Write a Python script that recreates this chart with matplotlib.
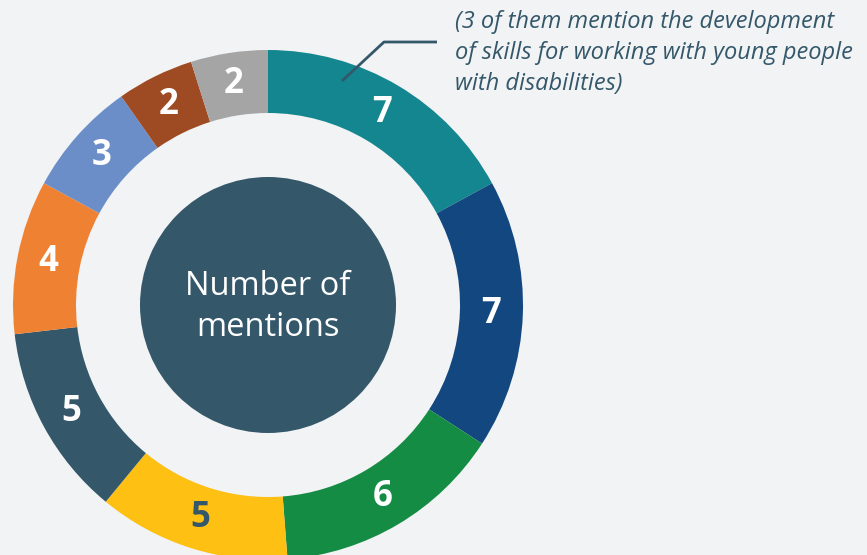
import matplotlib
matplotlib.use('Agg')
import matplotlib.pyplot as plt
import numpy as np

# mentions per category, clockwise from the top
counts = [7, 7, 6, 5, 5, 4, 3, 2, 2]
colors = ['#13868f', '#134780', '#158c43', '#fdc013', '#34586a',
          '#ef8232', '#6b8ec9', '#9e4a22', '#a5a5a5']
label_colors = ['white', 'white', 'white', '#34586a', 'white',
                'white', 'white', 'white', 'white']
center_text = 'Number of\nmentions'
note_text = '(3 of them mention the development\nof skills for working with young people\nwith disabilities)'

bg = '#f2f3f5'
dark = '#34586a'

fig = plt.figure(figsize=(8.67, 5.55), dpi=100)
fig.patch.set_facecolor(bg)
ax = fig.add_axes([0, 0, 1, 1])
ax.set_facecolor(bg)

cx, cy = 268, 250
R = 255
ring = 63

wedges, _ = ax.pie(counts, colors=colors, startangle=90, counterclock=False,
                   radius=R, center=(cx, cy), frame=True,
                   wedgeprops=dict(width=ring, linewidth=0))
ax.set_xlim(0, 867)
ax.set_ylim(0, 555)
ax.axis('off')

# numbers in the middle of each segment
r_lab = R - ring / 2
for w, v, c in zip(wedges, counts, label_colors):
    a = np.deg2rad((w.theta1 + w.theta2) / 2)
    ax.text(cx + r_lab * np.cos(a), cy + r_lab * np.sin(a), str(v),
            ha='center', va='center', color=c, fontsize=25,
            fontweight='bold', family='Open Sans')

# centre disc
ax.add_patch(plt.Circle((cx, cy), 128, color=dark, linewidth=0))
ax.text(cx, cy - 2, center_text, ha='center', va='center', color='white',
        fontsize=23.5, family='Open Sans', linespacing=1.3)

# callout for the first segment
ax.plot([342, 384, 437], [555 - 81, 555 - 42, 555 - 42], color=dark, lw=2,
        solid_capstyle='butt')
ax.text(455, 555 - 10, note_text, ha='left', va='top', color=dark,
        fontsize=17, style='italic', family='Open Sans', linespacing=1.4)

fig.savefig('out.png', dpi=100, facecolor=bg)
